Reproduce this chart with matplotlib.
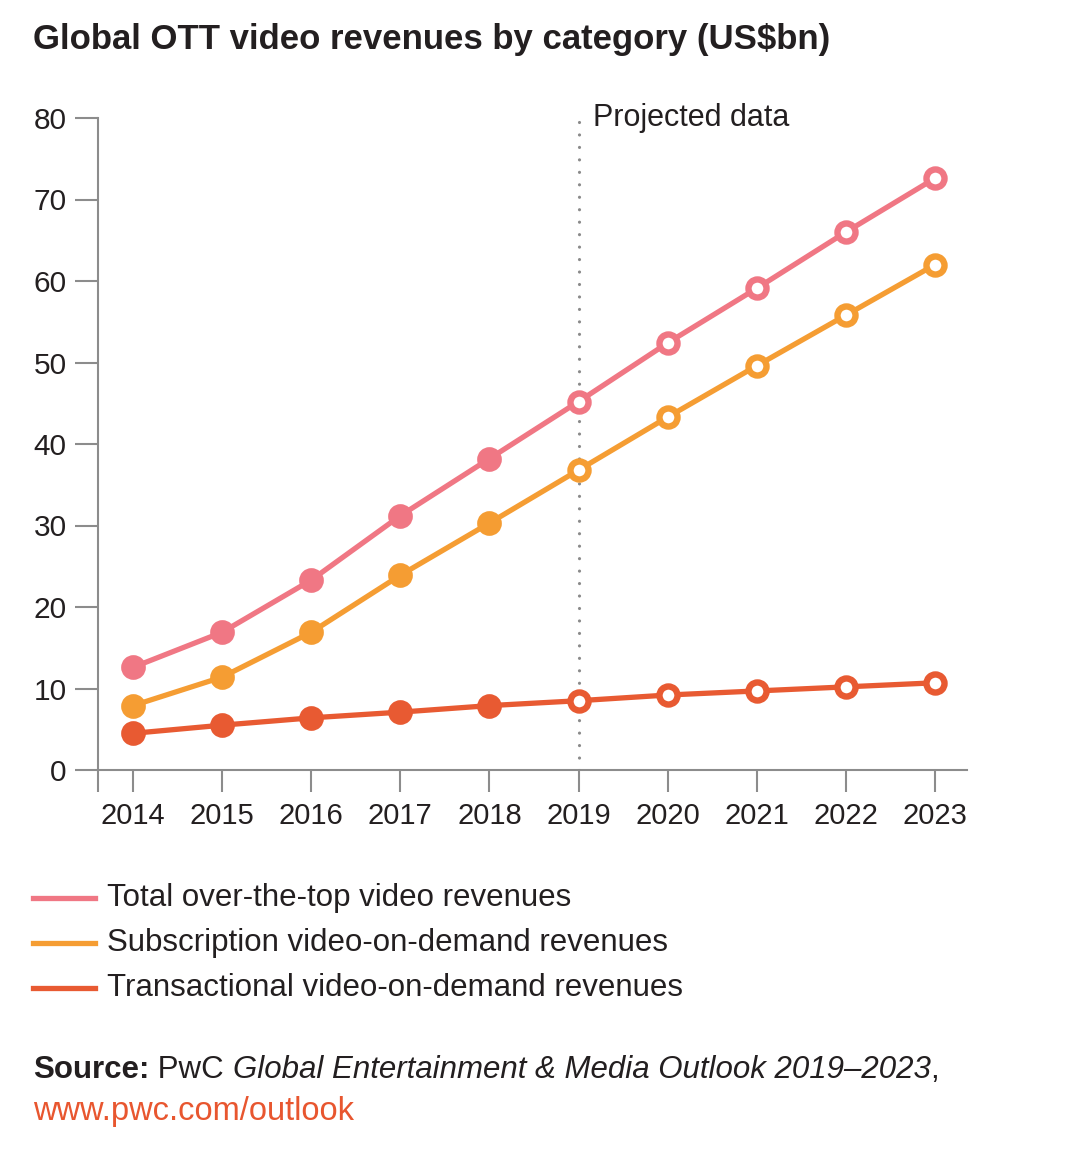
import matplotlib
matplotlib.use("Agg")
import matplotlib.pyplot as plt
from matplotlib.lines import Line2D

plt.rcParams['font.family'] = ['Liberation Sans', 'DejaVu Sans']

years = [2014, 2015, 2016, 2017, 2018, 2019, 2020, 2021, 2022, 2023]
total_ott = [12.6, 16.9, 23.3, 31.2, 38.2, 45.2, 52.4, 59.1, 66.0, 72.6]
svod = [7.9, 11.4, 16.9, 23.9, 30.3, 36.8, 43.3, 49.6, 55.8, 62.0]
tvod = [4.5, 5.5, 6.4, 7.1, 7.9, 8.5, 9.2, 9.7, 10.2, 10.7]
names = ['Total over-the-top video revenues',
         'Subscription video-on-demand revenues',
         'Transactional video-on-demand revenues']
colors = ['#F07784', '#F59D33', '#E85A32']
first_projected = 2019

ink = '#231F20'
grey = '#8C8C8C'
W, H = 1069, 1164

fig = plt.figure(figsize=(W / 100, H / 100), dpi=100)
ax = fig.add_axes([98 / W, 1 - 770 / H, (967 - 98) / W, (770 - 118) / H])

split = years.index(first_projected)
for vals, col, z in zip([total_ott, svod, tvod], colors, [5, 4, 6]):
    ax.plot(years, vals, color=col, lw=3.8, zorder=z, solid_capstyle='round')
    # actual data: filled dots
    ax.plot(years[:split], vals[:split], 'o', ms=13.5, mew=4.3, mfc=col, mec=col, zorder=z)
    # projected data: open dots
    ax.plot(years[split:], vals[split:], 'o', ms=13, mew=4.6, mfc='white', mec=col, zorder=z)

ax.axvline(first_projected, color='#8A8A8A', lw=2.3, linestyle=(0, (0.001, 3.9)),
           dash_capstyle='round', zorder=2)
ax.text(first_projected + 0.16, 80, 'Projected data', fontsize=22, color=ink,
        va='center', ha='left')

ax.set_xlim(2013.607, 2023.36)
ax.set_ylim(0, 80)
ax.set_yticks(range(0, 81, 10))
ax.set_xticks(years)
ax.set_xticks([2013.607], minor=True)
for s in ['top', 'right']:
    ax.spines[s].set_visible(False)
for s in ['left', 'bottom']:
    ax.spines[s].set_color(grey)
    ax.spines[s].set_linewidth(1.5)
ax.spines['bottom'].set_zorder(1)
ax.tick_params(axis='y', length=16.5, width=1.5, color=grey, pad=6,
               labelsize=21.5, labelcolor=ink)
ax.tick_params(axis='x', which='both', length=16, width=1.5, color=grey, pad=7,
               labelsize=21, labelcolor=ink)
ax.tick_params(axis='x', which='minor', labelbottom=False)
ax.set_facecolor('none')

fig.text(33 / W, 1 - 39 / H, 'Global OTT video revenues by category (US$bn)',
         fontsize=25, fontweight='bold', color=ink, va='center', ha='left')

# legend
for i, (name, col) in enumerate(zip(names, colors)):
    yy = 1 - (898 + 45 * i) / H
    fig.add_artist(Line2D([33 / W, 95 / W], [yy, yy], color=col, lw=3.8,
                          transform=fig.transFigure))
    fig.text(107 / W, yy, name, fontsize=22.5, color=ink, va='center', ha='left')

# source line made of pieces with different styles
fig.canvas.draw()
rend = fig.canvas.get_renderer()
pieces = [('Source:', 'bold', 'normal'), (' PwC ', 'normal', 'normal'),
          ('Global Entertainment & Media Outlook 2019\u20132023', 'normal', 'italic'),
          (',', 'normal', 'normal')]
x0 = 33
base = 1 - 1078 / H
for txt, wt, st in pieces:
    t = fig.text(x0 / W, base, txt, fontsize=22.5, fontweight=wt, fontstyle=st,
                 color=ink, va='baseline', ha='left')
    bb = t.get_window_extent(renderer=rend)
    x0 = bb.x1
fig.text(33 / W, 1 - 1120 / H, 'www.pwc.com/outlook', fontsize=23.5, color='#E8562F',
         va='baseline', ha='left')

fig.savefig('out.png', dpi=100, facecolor='white')
